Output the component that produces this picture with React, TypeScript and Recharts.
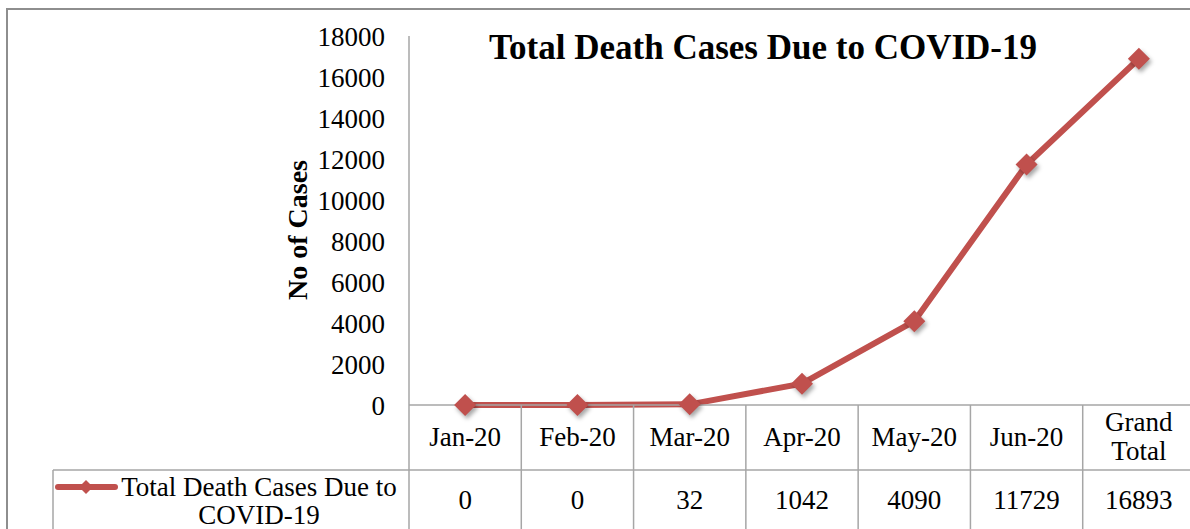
import React from 'react'
import { LineChart, Line, XAxis, YAxis } from 'recharts'

// chart values
const months = ['Jan-20', 'Feb-20', 'Mar-20', 'Apr-20', 'May-20', 'Jun-20', 'Grand Total']
const deaths = [0, 0, 32, 1042, 4090, 11729, 16893]
const yTicks = [0, 2000, 4000, 6000, 8000, 10000, 12000, 14000, 16000, 18000]
const legendLines = ['Total Death Cases Due to', 'COVID-19']
const seriesName = legendLines.join(' ')
const chartTitle = 'Total Death Cases Due to COVID-19'
const yLabel = 'No of Cases'

const data = months.map((m, i) => ({ month: m, deaths: deaths[i] }))

// layout
const W = 1200
const H = 529
const PLOT_LEFT = 409
const PLOT_RIGHT = 1195
const PLOT_TOP = 36
const PLOT_BOTTOM = 405
const ROW_SPLIT = 470
const BAND = (PLOT_RIGHT - PLOT_LEFT) / months.length

const RED = '#C0504D'
const GRID = '#a6a6a6'
const SERIF = '"Liberation Serif", "Times New Roman", serif'
const FS = 27

const Diamond = (props: any) => {
  const { cx, cy, index } = props
  if (cx == null || cy == null) return null
  const r = 11
  return (
    <polygon
      key={`d-${index}`}
      points={`${cx},${cy - r} ${cx + r},${cy} ${cx},${cy + r} ${cx - r},${cy}`}
      fill={RED}
      style={{ filter: 'drop-shadow(2px 3px 2px rgba(0,0,0,0.35))' }}
    />
  )
}

// x axis tick draws one column of the data table
const TableTick = (props: any) => {
  const { x, payload } = props
  const i = payload.index
  const half = BAND / 2
  const lines = String(payload.value).split(' ')
  const textProps = {
    textAnchor: 'middle' as const,
    dominantBaseline: 'central' as const,
    fontFamily: SERIF,
    fontSize: FS,
    fill: '#000',
  }
  return (
    <g>
      <line x1={x + half} y1={PLOT_BOTTOM} x2={x + half} y2={H} stroke={GRID} strokeWidth={1.5} />
      <line x1={x - half} y1={ROW_SPLIT} x2={x + half} y2={ROW_SPLIT} stroke={GRID} strokeWidth={1.5} />
      {lines.length === 1 ? (
        <text x={x} y={437} {...textProps}>{lines[0]}</text>
      ) : (
        lines.map((l, k) => (
          <text key={k} x={x} y={422 + k * 29} {...textProps}>{l}</text>
        ))
      )}
      <text x={x} y={500} {...textProps}>{deaths[i]}</text>
      {i === 0 && (
        <g>
          <line x1={x - half} y1={PLOT_BOTTOM} x2={x - half} y2={H} stroke={GRID} strokeWidth={1.5} />
          <line x1={53} y1={ROW_SPLIT} x2={x - half} y2={ROW_SPLIT} stroke={GRID} strokeWidth={1.5} />
          <line x1={53} y1={ROW_SPLIT} x2={53} y2={H} stroke={GRID} strokeWidth={1.5} />
          <line x1={58} y1={487} x2={115} y2={487} stroke={RED} strokeWidth={6} strokeLinecap="round" />
          <polygon points="86,480 93,487 86,494 79,487" fill={RED} />
          {legendLines.map((l, k) => (
            <text key={k} x={259} y={487 + k * 28} {...textProps}>{l}</text>
          ))}
        </g>
      )}
    </g>
  )
}

export default function App() {
  return (
    <div style={{ position: 'absolute', left: 0, top: 0, width: 1190, height: H, overflow: 'hidden', background: '#fff' }}>
      <div
        style={{
          position: 'absolute', left: 6, top: 8, width: 1400, height: 700,
          border: '2px solid #8e8e8e',
        }}
      />
      <div style={{ position: 'absolute', left: 0, top: 0 }}>
        <LineChart
          width={W}
          height={H}
          data={data}
          margin={{ top: PLOT_TOP, right: W - PLOT_RIGHT, bottom: 0, left: 0 }}
        >
          <XAxis
            dataKey="month"
            height={H - PLOT_BOTTOM}
            interval={0}
            padding={{ left: BAND / 2, right: BAND / 2 }}
            axisLine={{ stroke: GRID, strokeWidth: 1.5 }}
            tickLine={false}
            tick={<TableTick />}
          />
          <YAxis
            width={PLOT_LEFT}
            domain={[0, 18000]}
            ticks={yTicks}
            interval={0}
            axisLine={{ stroke: GRID, strokeWidth: 1.5 }}
            tickLine={false}
            tickSize={0}
            tickMargin={24}
            tick={{ fill: '#000', fontSize: FS, fontFamily: SERIF }}
            label={{
              content: () => (
                <text
                  transform="translate(297,230) rotate(-90)"
                  textAnchor="middle"
                  dominantBaseline="central"
                  fontFamily={SERIF}
                  fontWeight="bold"
                  fontSize={28}
                  fill="#000"
                >
                  {yLabel}
                </text>
              ),
            }}
          />
          <Line
            name={seriesName}
            dataKey="deaths"
            stroke={RED}
            strokeWidth={6}
            dot={Diamond}
            activeDot={false}
            isAnimationActive={false}
          />
        </LineChart>
      </div>
      <div
        style={{
          position: 'absolute', left: 463, top: 30, width: 600, textAlign: 'center',
          fontFamily: SERIF, fontWeight: 'bold', fontSize: 35, lineHeight: '35px', color: '#000',
        }}
      >
        {chartTitle}
      </div>
    </div>
  )
}
